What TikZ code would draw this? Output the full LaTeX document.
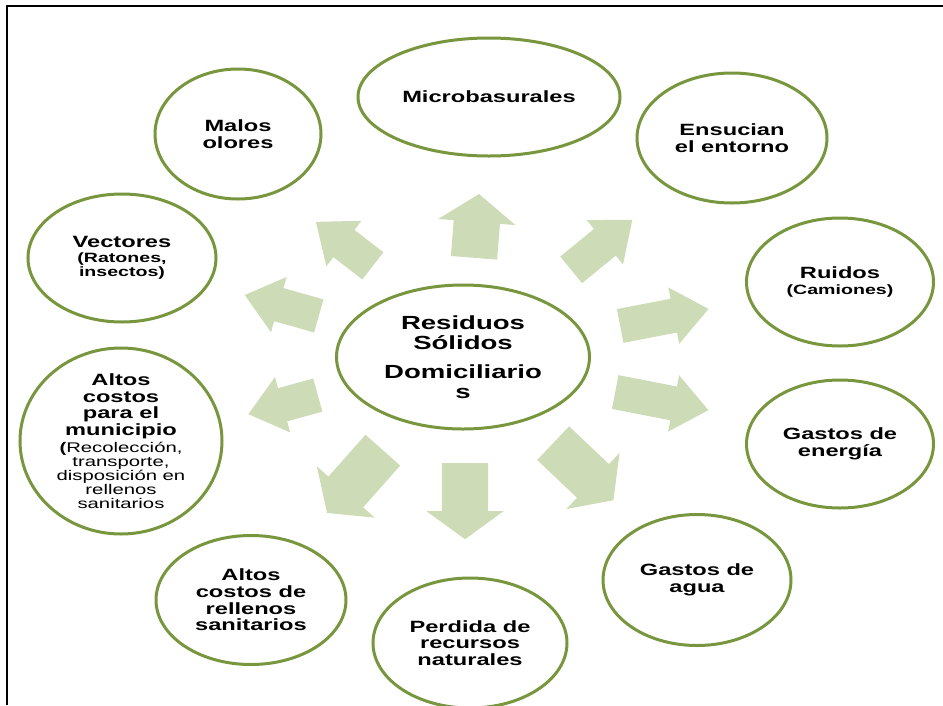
\documentclass[tikz,border=0pt]{standalone}
\usepackage{fontspec}
\setmainfont{Liberation Sans}[FakeStretch=1.45]
\usetikzlibrary{shapes.geometric,shapes.arrows}

\definecolor{ringgreen}{RGB}{119,150,62}
\definecolor{arrowgreen}{RGB}{205,220,182}
\newcommand{\subtext}{\fontsize{13.5}{14}\selectfont}
\newcommand{\subthin}{\fontsize{14}{14}\selectfont\mdseries}

\begin{document}
\begin{tikzpicture}[x=1pt, y=-1pt,
      every node/.style = {align=center,
        font=\fontsize{16.3}{16.7}\selectfont\bfseries},
      ring/.style = {ellipse, draw=ringgreen, line width=3pt, inner sep=0pt},
      bigarrow/.style = {single arrow, fill=arrowgreen, inner xsep=0pt,
        inner ysep=23pt, anchor=tail, single arrow head extend=15.5pt,
        single arrow tip angle=108},
      slimarrow/.style = {bigarrow, inner ysep=17pt,
        single arrow head extend=11.5pt, single arrow tip angle=78}]
  \useasboundingbox (0,0) rectangle (943,705);
  \draw[line width=2pt] (7,705) -- (7,6) -- (943,6);

  \node[ring, minimum width=253pt, minimum height=144pt,
    font=\fontsize{19}{20}\selectfont\bfseries]
    (rsd) at (463,357) {Residuos\\Sólidos\\[9pt]Domiciliario\\s};

  \node[ring, minimum width=262pt, minimum height=118pt] (micro) at (489,97) {Microbasurales};
  \node[ring, minimum width=190pt, minimum height=130pt] (ensucian) at (732,138) {Ensucian\\el entorno};
  \node[ring, minimum width=187pt, minimum height=128pt] (ruidos) at (840,282) {Ruidos\\[-1.5pt]\subtext(Camiones)};
  \node[ring, minimum width=187pt, minimum height=128pt] (energia) at (840,444) {Gastos de\\energía};
  \node[ring, minimum width=188pt, minimum height=131pt] (agua) at (697,580) {Gastos de\\agua};
  \node[ring, minimum width=194pt, minimum height=130pt] (perdida) at (470,643) {Perdida de\\recursos\\naturales};
  \node[ring, minimum width=190pt, minimum height=129pt] (rellenos) at (251,600) {Altos\\costos de\\rellenos\\sanitarios};
  \node[ring, minimum width=202pt, minimum height=186pt, inner ysep=-8pt] (municipio) at (121,441)
    {Altos\\costos\\para el\\municipio\\\subthin\textbf{(}Recolección,\\[-2.7pt]\subthin transporte,\\[-2.7pt]
     \subthin disposición en\\[-2.7pt]\subthin rellenos\\[-2.7pt]\subthin sanitarios};
  \node[ring, minimum width=188pt, minimum height=128pt] (vectores) at (122,258)
    {Vectores\\[-2pt]\subtext(Ratones,\\[-2.7pt]\subtext insectos)};
  \node[ring, minimum width=166pt, minimum height=130pt] (malos) at (238,134) {Malos\\olores};

  \node[bigarrow, minimum height=64pt, rotate=85.5] (a-micro) at (474,258) {};
  \node[slimarrow, minimum height=79pt, rotate=39.3] (a-ensucian) at (571,270) {};
  \node[slimarrow, minimum height=90pt, rotate=10.9] (a-ruidos) at (620,326) {};
  \node[slimarrow, minimum height=95pt, rotate=-11] (a-energia) at (615,392) {};
  \node[bigarrow, minimum height=83pt, rotate=-43.5] (a-agua) at (553,443) {};
  \node[bigarrow, minimum height=76pt, rotate=-90] (a-perdida) at (465,463) {};
  \node[bigarrow, minimum height=84pt, rotate=228.4] (a-rellenos) at (383,450) {};
  \node[slimarrow, minimum height=72pt, rotate=195.4] (a-municipio) at (318,395) {};
  \node[slimarrow, minimum height=77pt, rotate=164.2] (a-vectores) at (319,316) {};
  \node[slimarrow, minimum height=72pt, rotate=142.3] (a-malos) at (373,266) {};
\end{tikzpicture}
\end{document}
